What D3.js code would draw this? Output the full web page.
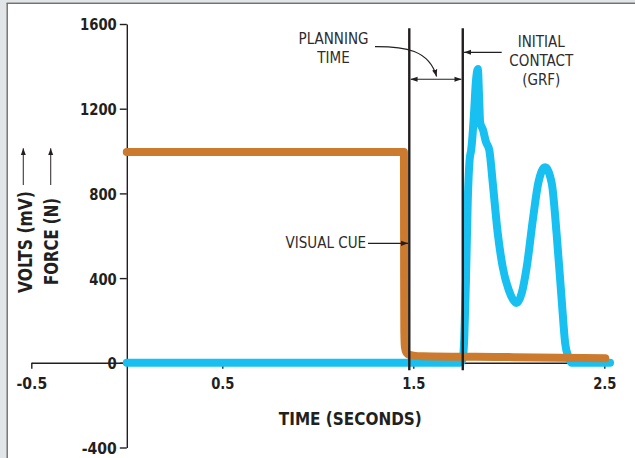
<!DOCTYPE html>
<html>
<head>
<meta charset="utf-8">
<script src="https://cdn.jsdelivr.net/npm/d3@7"></script>
<style>
  html, body { margin: 0; padding: 0; background: #ffffff; }
  svg { display: block; }
</style>
</head>
<body>
<svg id="chart" width="635" height="458"></svg>
<script>
// ---- data -------------------------------------------------------------
const xTicks = [-0.5, 0.5, 1.5, 2.5];
const xTickLabels = ["-0.5", "0.5", "1.5", "2.5"];
const yTicks = [-400, 0, 400, 800, 1200, 1600];
const yTickLabels = ["-400", "0", "400", "800", "1200", "1600"];

// visual-cue signal (volts, mV)
const cueTime  = [0, 1.451, 1.4515, 1.452, 1.453, 1.456, 1.464, 1.478, 1.5, 1.55, 2.0, 2.505];
const cueVolts = [995, 995, 800, 400, 150, 75, 48, 38, 34, 31, 27, 21];

// ground reaction force (N)
const grfTime  = [0, 1.745, 1.758, 1.767, 1.776, 1.785, 1.795, 1.803, 1.808, 1.818, 1.828, 1.838,
                  1.845, 1.85, 1.865, 1.88, 1.898, 1.916, 1.942, 1.968, 2.0, 2.041, 2.068,
                  2.094, 2.128, 2.154, 2.19, 2.225, 2.25, 2.277, 2.295, 2.312, 2.33, 2.53];
const grfForce = [0, 0, 15, 120, 400, 760, 960, 1005, 1050, 1180, 1330, 1387,
                  1240, 1135, 1100, 1044, 1004, 849, 613, 453, 343, 283, 330,
                  453, 690, 847, 923, 847, 613, 296, 93, 28, 0, 0];

// event markers (seconds)
const eventTimes = [1.479, 1.759];
const eventLabels = ["VISUAL CUE", "INITIAL CONTACT (GRF)"];

// ---- layout -----------------------------------------------------------
const svg = d3.select("#chart");
const ink = "#231f20";
const blue = "#17c0f0";
const orange = "#cc7a2e";
const tickFont = "'DejaVu Sans Condensed', 'DejaVu Sans', sans-serif";
const noteFont = "'Liberation Sans Narrow', 'DejaVu Sans Condensed', sans-serif";

const x = d3.scaleLinear().domain([-0.5, 2.5]).range([31.3, 604.3]);
const y = d3.scaleLinear().domain([-400, 1600]).range([447.5, 24]);

// frame
svg.append("rect").attr("x", 0).attr("y", 0).attr("width", 635).attr("height", 458).attr("fill", "#ffffff");
svg.append("rect").attr("x", 0).attr("y", 0).attr("width", 6.5).attr("height", 458).attr("fill", "#e1e5e8");
svg.append("rect").attr("x", 0).attr("y", 0).attr("width", 635).attr("height", 2.5).attr("fill", "#e1e5e8");
svg.append("line").attr("x1", 7.2).attr("x2", 7.2).attr("y1", 3).attr("y2", 458)
  .attr("stroke", "#707274").attr("stroke-width", 1.5);
svg.append("line").attr("x1", 6.5).attr("x2", 635).attr("y1", 3.2).attr("y2", 3.2)
  .attr("stroke", "#707274").attr("stroke-width", 1.5);

// arrow markers
const defs = svg.append("defs");
defs.append("marker").attr("id", "head")
  .attr("viewBox", "0 -3 7 6").attr("refX", 7).attr("refY", 0)
  .attr("markerWidth", 7).attr("markerHeight", 6)
  .attr("markerUnits", "userSpaceOnUse").attr("orient", "auto-start-reverse")
  .append("path").attr("d", "M0,-2.6L7,0L0,2.6Z").attr("fill", ink);

// condensed label width: digits, points and minus signs
const glyphW = { ".": 4.9, "-": 7.4 };
const labelWidth = s => [...s].reduce((w, c) => w + (glyphW[c] ?? 9.2), 0);

// ---- axes -------------------------------------------------------------
const yAxis = d3.axisLeft(y).tickValues(yTicks)
  .tickFormat((d, i) => yTickLabels[i]).tickSize(7).tickSizeOuter(0).tickPadding(3);
const gy = svg.append("g").attr("transform", `translate(${x(0)},0)`).call(yAxis);

const xAxis = d3.axisBottom(x).tickValues(xTicks)
  .tickFormat((d, i) => xTickLabels[i]).tickSize(6).tickSizeOuter(0);
const gx = svg.append("g").attr("transform", `translate(0,${y(0)})`).call(xAxis);

[gx, gy].forEach(g => {
  g.select(".domain").attr("stroke", ink).attr("stroke-width", 1.4);
  g.selectAll(".tick line").attr("stroke", ink).attr("stroke-width", 1.4);
  g.selectAll(".tick text").attr("fill", ink)
    .style("font-family", tickFont).style("font-weight", "bold").style("font-size", "16.5px")
    .attr("textLength", function () { return labelWidth(this.textContent); })
    .attr("lengthAdjust", "spacingAndGlyphs");
});
gx.selectAll(".tick text").attr("y", 26).attr("dy", 0);
gy.selectAll(".tick text").attr("dy", "0.36em");

// ---- series -----------------------------------------------------------
const lineGen = d3.line().x(d => x(d[0])).y(d => y(d[1])).curve(d3.curveMonotoneX);

svg.append("path")
  .datum(d3.zip(grfTime, grfForce))
  .attr("d", lineGen)
  .attr("fill", "none").attr("stroke", blue).attr("stroke-width", 8)
  .attr("stroke-linecap", "round").attr("stroke-linejoin", "round");

svg.append("path")
  .datum(d3.zip(cueTime, cueVolts))
  .attr("d", lineGen)
  .attr("fill", "none").attr("stroke", orange).attr("stroke-width", 8)
  .attr("stroke-linecap", "round").attr("stroke-linejoin", "round");

// event lines
svg.selectAll("line.event").data(eventTimes).join("line").attr("class", "event")
  .attr("x1", d => x(d)).attr("x2", d => x(d))
  .attr("y1", y(1580)).attr("y2", y(-35))
  .attr("stroke", ink).attr("stroke-width", 2.4);

// ---- annotations ------------------------------------------------------
function note(lines, cx, baseline, step) {
  const t = svg.append("text").attr("text-anchor", "middle")
    .attr("fill", "#2e2c2d").style("font-family", noteFont).style("font-size", "15px");
  lines.forEach((s, i) => t.append("tspan").attr("x", cx).attr("y", baseline + i * step).text(s));
}
note(["PLANNING", "TIME"], 333.5, 44, 18.7);
note(["INITIAL", "CONTACT", "(GRF)"], 541.3, 46.7, 19.2);
note([eventLabels[0]], 325.8, 248.3, 0);

const arrowStyle = sel => sel.attr("fill", "none").attr("stroke", ink).attr("stroke-width", 1.2)
  .attr("marker-end", "url(#head)");

// visual cue pointer
svg.append("line").attr("x1", 368).attr("x2", x(eventTimes[0]) - 1.3)
  .attr("y1", 243.3).attr("y2", 243.3).call(arrowStyle);
// initial contact pointer
svg.append("line").attr("x1", 501.7).attr("x2", x(eventTimes[1]) + 1.3)
  .attr("y1", 52.3).attr("y2", 52.3).call(arrowStyle);
// planning time: curved pointer and span arrow
svg.append("path").attr("d", "M375,46.6C405,46.4 429,50 436.6,76.5").call(arrowStyle);
svg.append("line").attr("x1", x(eventTimes[0]) + 1.3).attr("x2", x(eventTimes[1]) - 1.3)
  .attr("y1", y(1339)).attr("y2", y(1339)).call(arrowStyle)
  .attr("marker-start", "url(#head)");

// ---- axis titles ------------------------------------------------------
svg.append("text").attr("x", 350.3).attr("y", 425).attr("text-anchor", "middle")
  .attr("fill", ink).style("font-family", tickFont).style("font-weight", "bold")
  .style("font-size", "17.5px").attr("textLength", 143).attr("lengthAdjust", "spacingAndGlyphs")
  .text("TIME (SECONDS)");

[["VOLTS (mV)", 32, 0, 102], ["FORCE (N)", 57.5, 8, 87]].forEach(([label, bx, off, len]) => {
  svg.append("text").attr("transform", `translate(${bx},293) rotate(-90)`)
    .attr("fill", ink).style("font-family", tickFont).style("font-weight", "bold")
    .style("font-size", "19px").attr("textLength", len).attr("lengthAdjust", "spacingAndGlyphs")
    .attr("x", off).attr("y", 0)
    .text(label);
});
[23.3, 50.7].forEach(ax => {
  svg.append("line").attr("x1", ax).attr("x2", ax).attr("y1", 185).attr("y2", 148.3)
    .attr("stroke", "#3a3839").attr("stroke-width", 1.1).attr("marker-end", "url(#head)");
});
</script>
</body>
</html>
